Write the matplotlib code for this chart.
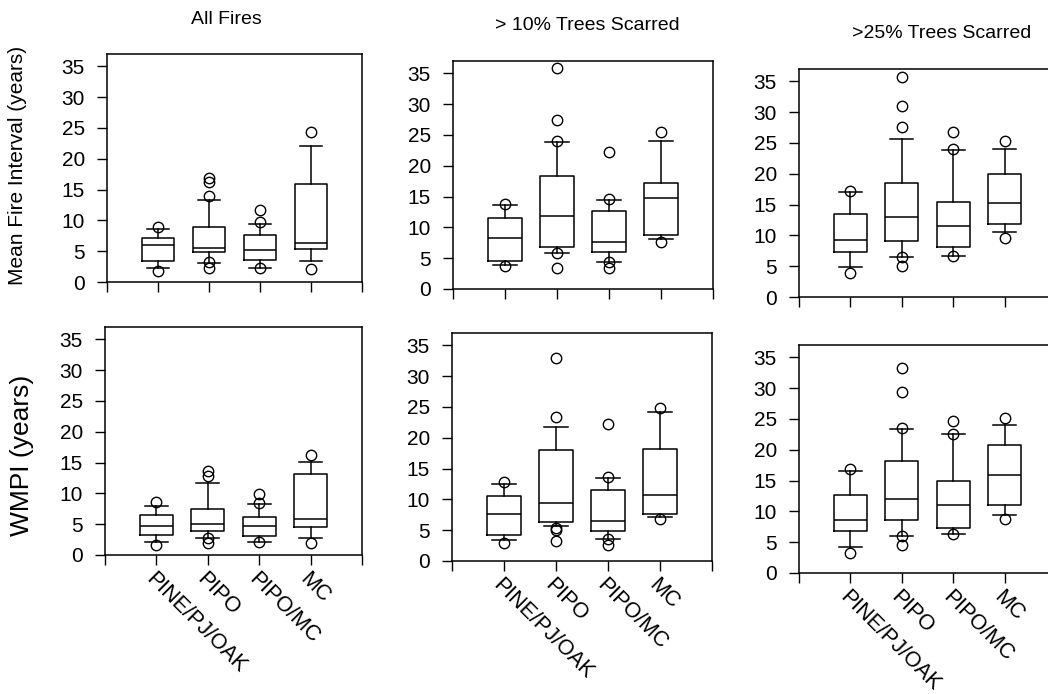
import numpy as np
import matplotlib
matplotlib.use('Agg')
from matplotlib import pyplot as plt

plt.rcParams['font.family'] = ['Liberation Sans', 'DejaVu Sans']

categories = ['PINE/PJ/OAK', 'PIPO', 'PIPO/MC', 'MC']
col_titles = ['All Fires', '> 10% Trees Scarred', '>25% Trees Scarred']
row_labels = ['Mean Fire Interval (years)', 'WMPI (years)']

# panels: MFI all, MFI >10%, MFI >25%, WMPI all, WMPI >10%, WMPI >25%
whislo = [
  [2.27, 3.08, 2.27, 3.46],
  [3.9, 5.9, 4.43, 8.1],
  [4.85, 6.46, 6.73, 10.5],
  [2.05, 2.69, 2.05, 2.8],
  [3.34, 5.6, 3.6, 7.12],
  [4.2, 6.05, 6.37, 9.35],
]
q1 = [
  [3.46, 4.87, 3.57, 5.35],
  [4.54, 6.76, 5.95, 8.76],
  [7.27, 9.15, 8.19, 11.9],
  [3.23, 3.93, 3.07, 4.47],
  [4.15, 6.31, 4.85, 7.55],
  [6.75, 8.54, 7.29, 11.07],
]
med = [
  [5.95, 5.5, 5.14, 6.33],
  [8.2, 11.84, 7.57, 14.7],
  [9.2, 13.03, 11.58, 15.19],
  [4.68, 5.0, 4.68, 5.8],
  [7.55, 9.39, 6.47, 10.7],
  [8.64, 12.05, 11.07, 15.9],
]
q3 = [
  [7.2, 8.9, 7.57, 15.95],
  [11.57, 18.33, 12.7, 17.14],
  [13.4, 18.52, 15.4, 19.92],
  [6.46, 7.43, 6.19, 13.1],
  [10.5, 18.0, 11.54, 18.2],
  [12.6, 18.2, 14.86, 20.8],
]
whishi = [
  [8.65, 13.36, 9.46, 22.1],
  [13.6, 23.85, 14.44, 24.0],
  [16.96, 25.69, 23.8, 24.07],
  [7.97, 11.74, 8.35, 15.08],
  [12.5, 21.7, 13.4, 24.1],
  [16.6, 23.4, 22.5, 24.0],
]
fliers = [
  [[9.0, 1.84], [16.9, 16.3, 14.0, 3.2, 2.2], [11.7, 9.7, 2.27], [24.4, 2.1]],
  [[13.8, 3.73], [35.8, 27.5, 24.07, 5.79, 3.46], [22.3, 14.55, 4.43, 3.35], [25.4, 7.68]],
  [[17.2, 3.88], [35.76, 31.07, 27.57, 6.57, 5.06], [26.76, 23.96, 6.73], [25.3, 9.64]],
  [[8.6, 1.6], [13.7, 12.9, 2.69, 1.88], [9.96, 8.45, 2.05], [16.3, 1.99]],
  [[12.78, 2.97], [33.0, 23.3, 5.4, 4.96, 3.18], [22.3, 13.6, 3.6, 2.64], [24.9, 6.74]],
  [[16.9, 3.24], [33.2, 29.4, 23.5, 6.05, 4.6], [24.6, 22.6, 6.37], [25.1, 8.8]],
]

W, H = 1048, 694
# axes boxes in pixels: left, top, right, bottom
rects = [
  (107, 54, 362, 282), (453, 61, 713, 289), (799, 69, 1056, 297),
  (105, 327, 362, 555), (452, 333, 712, 561), (799, 345, 1056, 573),
]

fig = plt.figure(figsize=(W / 100, H / 100), dpi=100)

for i, (l, t, r, b) in enumerate(rects):
  ax = fig.add_axes([l / W, 1 - b / H, (r - l) / W, (b - t) / H])
  stats = []
  for j in range(len(categories)):
    stats.append(dict(whislo=whislo[i][j], q1=q1[i][j], med=med[i][j],
                      q3=q3[i][j], whishi=whishi[i][j], fliers=fliers[i][j]))
  pos = np.arange(1, len(categories) + 1)
  ax.bxp(stats, positions=pos, widths=0.64, capwidths=0.45, manage_ticks=False,
         boxprops=dict(color='black', lw=1.1),
         whiskerprops=dict(color='black', lw=1.1),
         capprops=dict(color='black', lw=1.1),
         medianprops=dict(color='black', lw=1.1),
         flierprops=dict(marker='o', markersize=7.5, markerfacecolor='none',
                         markeredgecolor='black', markeredgewidth=1.0))
  ax.set_xlim(0, 5)
  ax.set_ylim(0, 37)
  ax.set_yticks(np.arange(0, 36, 5))
  ax.set_xticks(np.arange(0, 6))
  if i >= 3:
    ax.set_xticklabels([''] + categories + [''], rotation=-45, ha='left',
                       va='top', rotation_mode='anchor', fontsize=15.5)
  else:
    ax.set_xticklabels([])
  ax.tick_params(axis='y', direction='out', length=7, width=1, pad=9, labelsize=15)
  ax.tick_params(axis='x', direction='out', length=7, width=1, pad=3)
  for s in ax.spines.values():
    s.set_linewidth(1.1)

# column titles
fig.text(226 / W, 1 - 20 / H, col_titles[0], ha='center', va='center', fontsize=14)
fig.text(587 / W, 1 - 26 / H, col_titles[1], ha='center', va='center', fontsize=14)
fig.text(942 / W, 1 - 34 / H, col_titles[2], ha='center', va='center', fontsize=14)

# row labels
fig.text(18 / W, 1 - 165 / H, row_labels[0], rotation=90, ha='center', va='center', fontsize=15)
fig.text(22 / W, 1 - 455 / H, row_labels[1], rotation=90, ha='center', va='center', fontsize=19)

fig.savefig('out.png', dpi=100)
